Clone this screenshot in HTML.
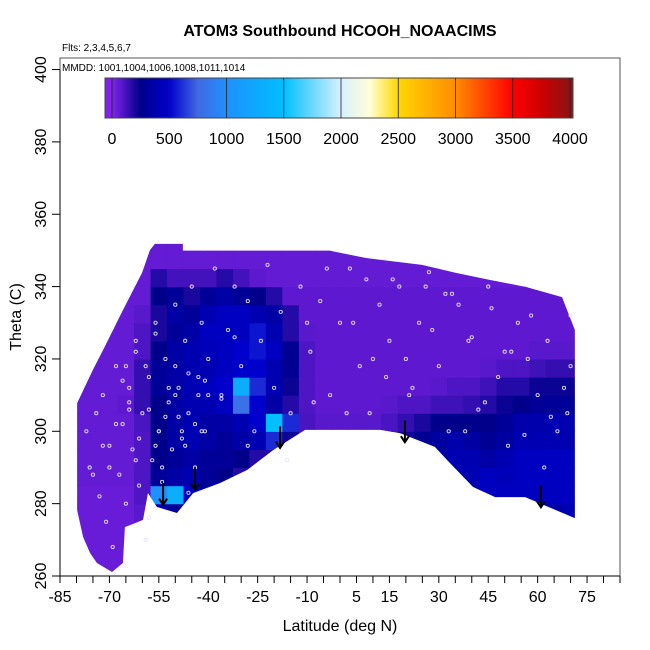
<!DOCTYPE html>
<html><head><meta charset="utf-8"><style>
html,body{margin:0;padding:0;background:#fff;}
svg{display:block;font-family:"Liberation Sans",sans-serif;}
</style></head><body>
<svg id="chart" width="650" height="650" viewBox="0 0 650 650">
<text x="340" y="36" text-anchor="middle" font-size="16" font-weight="bold">ATOM3 Southbound HCOOH_NOAACIMS</text>
<text x="62" y="51" font-size="10">Flts: 2,3,4,5,6,7</text>
<rect x="60" y="58" width="560" height="518" fill="none" stroke="#555" stroke-width="1"/>
<text x="62" y="71" font-size="10">MMDD: 1001,1004,1006,1008,1011,1014</text>
<g id="heat"></g>
<g id="obs"></g>
<g id="arrows"></g>
<g id="cbar"></g>
<g id="axes"></g>
<text x="340" y="631" text-anchor="middle" font-size="16">Latitude (deg N)</text>
<text transform="translate(21,317) rotate(-90)" text-anchor="middle" font-size="16">Theta (C)</text>
</svg>
<script>
const latCenters=[-80,-75,-70,-65,-60,-55,-50,-45,-40,-35,-30,-25,-20,-15,-10,-5,0,5,10,15,20,25,30,35,40,45,50,55,60,65,70];
const thetaCenters=[262.5,267.5,272.5,277.5,282.5,287.5,292.5,297.5,302.5,307.5,312.5,317.5,322.5,327.5,332.5,337.5,342.5,347.5,352.5];
// values per theta row (bottom to top), columns match latCenters
const values=[
[50,50,50,50,50,50,50,50,50,50,50,50,50,50,50,50,50,50,50,50,50,50,50,50,50,50,50,50,50,50,50],
[50,50,50,50,50,90,120,90,50,50,50,50,50,50,50,50,50,50,50,50,50,50,50,50,50,50,50,100,100,100,100],
[50,50,50,50,50,200,300,200,60,50,50,50,50,50,50,50,50,50,50,50,50,50,50,50,50,100,100,150,150,150,150],
[50,50,50,50,80,400,300,250,80,60,60,60,60,60,60,60,60,60,60,60,60,60,60,100,150,200,300,350,300,350,400],
[50,50,50,50,100,1000,1300,500,300,200,120,70,70,70,70,70,70,70,70,70,70,90,150,250,400,450,450,450,450,450,450],
[60,60,60,60,100,300,350,400,300,250,180,120,100,80,70,70,70,70,70,70,90,180,300,400,400,450,420,450,450,450,450],
[60,60,60,60,100,250,300,350,300,300,250,180,180,110,70,70,80,80,80,90,160,280,350,400,400,350,400,450,450,450,450],
[60,60,60,60,100,250,350,400,350,300,350,400,600,220,80,80,80,80,80,160,220,280,330,380,330,280,330,400,400,400,400],
[60,60,60,60,110,250,350,400,350,350,400,500,1500,600,110,80,80,80,80,110,150,200,250,250,250,250,300,380,380,400,400],
[60,60,60,70,150,250,350,400,400,450,800,500,350,180,100,70,70,70,70,80,100,100,130,130,150,180,230,250,300,300,300],
[60,60,60,60,150,300,350,400,450,500,1300,600,400,230,100,70,70,70,70,70,70,70,80,100,100,130,180,180,230,230,230],
[60,60,60,60,150,300,350,400,400,450,500,500,400,280,100,70,70,70,70,70,70,70,70,70,70,80,100,100,130,150,150],
[60,60,60,60,100,250,350,400,420,450,500,550,450,280,100,70,70,70,70,70,70,70,70,70,70,70,70,70,80,80,80],
[60,60,60,60,100,200,300,350,450,450,450,550,400,180,80,70,70,70,70,70,70,70,70,70,70,70,70,70,70,70,70],
[60,60,60,60,80,200,350,300,400,450,450,400,350,180,70,70,70,70,70,70,70,70,70,70,70,70,70,70,70,70,70],
[60,60,60,60,60,250,300,200,300,350,300,250,180,70,70,70,70,70,70,70,70,70,70,70,70,70,70,70,70,70,70],
[60,60,60,60,60,180,120,120,120,180,120,70,60,60,60,60,60,60,60,60,60,60,60,60,60,60,60,60,60,60,60],
[60,60,60,60,60,60,60,60,60,60,60,60,60,60,60,60,60,60,60,60,60,60,60,60,60,60,60,60,60,60,60],
[60,60,60,60,60,60,60,60,60,60,60,60,60,60,60,60,60,60,60,60,60,60,60,60,60,60,60,60,60,60,60]
];
const outlineLat=[-79.8,-75.0,-71.9,-65.9,-60.1,-57.7,-56.2,-47.7,-47.7,-3.0,7.9,24.9,35.2,45.8,56.5,67.4,71.3,71.3,56.2,47.1,40.4,33.4,28.8,18.2,12.1,-10.6,-20.3,-28.2,-36.4,-44.6,-49.5,-55.6,-58.3,-59.8,-65.3,-65.9,-69.2,-73.8,-75.9,-78.0,-79.8];
const outlineTheta=[307.8,317.0,322.5,333.5,343.8,350.1,351.8,351.8,349.9,349.9,347.9,346.0,343.8,341.8,339.9,337.1,328.0,276.0,281.8,281.8,284.6,291.2,295.7,299.5,300.4,300.4,294.8,289.3,285.7,282.9,277.4,279.1,282.9,275.5,273.5,263.6,261.1,263.6,266.4,270.8,278.2];
const obsLat=[-77,-76,-74,-73,-72,-71,-70,-69,-68,-67,-66,-65,-64,-63,-62,-61,-60,-59,-58,-57,-56,-55,-54,-53,-52,-51,-50,-49,-48,-47,-46,-45,-44,-43,-42,-41,-40,-38,-36,-34,-32,-30,-28,-26,-24,-22,-20,-18,-15,-12,-9,-6,-3,0,3,6,9,12,15,18,21,24,27,30,33,36,39,42,45,48,51,54,57,60,63,66,69,-70,-66,-62,-58,-54,-50,-46,-42,-36,-28,-10,2,14,26,38,50,62,70,-64,-56,-48,-40,-32,-16,8,20,32,44,56,68,-75,-72,-68,-64,-61,-58,-55,-52,-49,-46,-43,-65,-62,-59,-56,-53,-50,-47,-44,-41,-8,-4,4,10,16,22,28,34,40,46,52,58,64,70];
const obsTheta=[300,290,305,282,310,275,296,268,318,288,302,280,312,295,322,285,305,270,315,292,330,300,286,320,308,295,335,312,298,325,305,340,290,315,330,300,320,345,310,328,340,318,336,300,325,346,312,333,305,340,322,336,310,330,345,318,305,335,325,340,310,330,344,318,300,335,325,306,340,315,296,330,320,310,325,300,305,290,314,325,276,290,318,283,300,309,296,330,305,315,340,300,322,290,332,306,327,300,310,326,292,342,320,338,308,299,312,288,296,302,308,298,306,300,312,304,316,310,318,292,318,296,304,310,296,302,314,308,345,330,320,342,312,328,338,326,334,322,332,304,318,295];
const arrowLat=[-53.7,-44.0,-18.2,19.7,61.0];
const arrowTheta=[285.7,289.8,301.4,303.0,285.0];
const cbTicks=[0,500,1000,1500,2000,2500,3000,3500,4000];
const xTickLabels=[-85,-70,-55,-40,-25,-10,5,15,30,45,60,75];
const yTicks=[260,280,300,320,340,360,380,400];

const NS="http://www.w3.org/2000/svg";
const X0=60,X1=620;
const xs=v=>X0+(v+85)/170*(X1-X0);
const ys=v=>576-(v-260)*(72.35/20);
const cs=v=>112+v/4000*(570-112);
const stops=[[0,[130,35,235]],[250,[0,0,139]],[500,[0,0,205]],[750,[65,105,225]],[1000,[30,144,255]],[1500,[0,191,255]],[2000,[215,240,255]],[2250,[255,255,215]],[2500,[255,215,0]],[3000,[255,140,0]],[3500,[255,0,0]],[3750,[205,0,0]],[4000,[140,20,20]]];
function col(v){
  if(v<=stops[0][0])return 'rgb('+stops[0][1]+')';
  for(let i=1;i<stops.length;i++){if(v<=stops[i][0]){const a=stops[i-1],b=stops[i],t=(v-a[0])/(b[0]-a[0]);return 'rgb('+a[1].map((c,k)=>Math.round(c+(b[1][k]-c)*t)).join(',')+')';}}
  return 'rgb('+stops[stops.length-1][1]+')';
}
function mk(tag,attrs,parent){const e=document.createElementNS(NS,tag);for(const k in attrs)e.setAttribute(k,attrs[k]);parent.appendChild(e);return e;}
const svg=document.getElementById('chart');
const defs=mk('defs',{},svg);
const cp=mk('clipPath',{id:'outline'},defs);
mk('polygon',{points:outlineLat.map((l,i)=>xs(l)+','+ys(outlineTheta[i])).join(' ')},cp);
const heat=document.getElementById('heat');
heat.setAttribute('clip-path','url(#outline)');
values.forEach((row,ri)=>{row.forEach((v,ci)=>{
  const x0=xs(latCenters[ci]-2.5),x1=xs(latCenters[ci]+2.5),y0=ys(thetaCenters[ri]+2.5),y1=ys(thetaCenters[ri]-2.5);
  const r=mk('rect',{x:x0,y:y0,width:x1-x0+0.6,height:y1-y0+0.6,fill:col(v)},heat);
  
  
});});
const obs=document.getElementById('obs');
obsLat.forEach((l,i)=>{
  const c=mk('circle',{cx:xs(l),cy:ys(obsTheta[i]),r:1.6,fill:'none',stroke:'#e8e0ff','stroke-width':0.9},obs);
  
  
});
const arr=document.getElementById('arrows');
arrowLat.forEach((l,i)=>{
  const x=xs(l),y0=ys(arrowTheta[i]),y1=ys(arrowTheta[i]-6);
  const g=mk('g',{},arr);
  
  
  mk('line',{x1:x,y1:y0,x2:x,y2:y1,stroke:'#000','stroke-width':2},g);
  mk('polyline',{points:(x-4)+','+(y1-6)+' '+x+','+y1+' '+(x+4)+','+(y1-6),fill:'none',stroke:'#000','stroke-width':2},g);
});
// colorbar
const cb=document.getElementById('cbar');
const lg=mk('linearGradient',{id:'cbg',x1:0,x2:1,y1:0,y2:0},defs);
const cbL=105,cbR=573;
mk('stop',{offset:0,'stop-color':col(0)},lg);
stops.forEach(s=>{mk('stop',{offset:((cs(s[0])-cbL)/(cbR-cbL)),'stop-color':col(s[0])},lg);});
mk('stop',{offset:1,'stop-color':col(4000)},lg);
const cbRect=mk('rect',{x:cbL,y:78,width:cbR-cbL,height:40,fill:'url(#cbg)',stroke:'#444','stroke-width':1},cb);


cbTicks.forEach(t=>{
  mk('line',{x1:cs(t),x2:cs(t),y1:78,y2:118,stroke:'#222','stroke-width':0.8},cb);
  const tx=mk('text',{x:cs(t),y:144,'text-anchor':'middle','font-size':16},cb);
  tx.textContent=t;
  
  
});
// axes
const ax=document.getElementById('axes');
mk('line',{x1:xs(-85),x2:xs(85),y1:576,y2:576,stroke:'#000'},ax);
for(let v=-85;v<=85;v+=5){mk('line',{x1:xs(v),x2:xs(v),y1:576,y2:583,stroke:'#000'},ax);}
xTickLabels.forEach(v=>{
  const t=mk('text',{x:xs(v),y:602,'text-anchor':'middle','font-size':16},ax);
  t.textContent=v;
  
  
});
mk('line',{x1:60,x2:60,y1:ys(260),y2:ys(400),stroke:'#000'},ax);
yTicks.forEach(v=>{
  mk('line',{x1:52,x2:60,y1:ys(v),y2:ys(v),stroke:'#000'},ax);
  const t=mk('text',{transform:'translate(46,'+ys(v)+') rotate(-90)','text-anchor':'middle','font-size':16},ax);
  t.textContent=v;
  
  
});
</script>
</body></html>
